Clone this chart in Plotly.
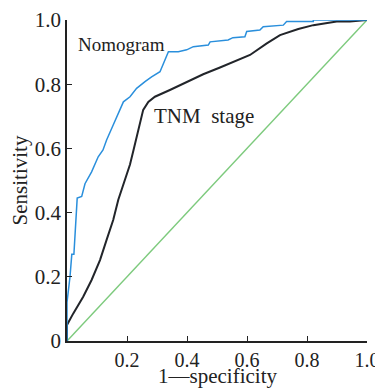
import plotly.graph_objects as go

# Nomogram ROC (1-specificity, sensitivity)
nomo_fpr = [0.0, 0.0, 0.01, 0.016, 0.023, 0.027, 0.03, 0.034, 0.049, 0.06, 0.082, 0.099, 0.104,
            0.12, 0.132, 0.154, 0.177, 0.188, 0.21, 0.232, 0.26, 0.282, 0.31, 0.321, 0.338,
            0.371, 0.399, 0.421, 0.471, 0.477, 0.499, 0.537, 0.553, 0.593, 0.599, 0.643,
            0.654, 0.721, 0.732, 0.821, 0.821, 1.0]
nomo_tpr = [0.0, 0.12, 0.20, 0.27, 0.27, 0.346, 0.41, 0.445, 0.45, 0.49, 0.527, 0.564, 0.574,
            0.595, 0.626, 0.673, 0.72, 0.745, 0.761, 0.787, 0.808, 0.823, 0.839, 0.865, 0.901,
            0.901, 0.907, 0.917, 0.922, 0.932, 0.934, 0.938, 0.945, 0.948, 0.964, 0.969,
            0.979, 0.984, 0.995, 0.995, 1.0, 1.0]

# TNM stage ROC
tnm_fpr = [0.0, 0.0, 0.021, 0.054, 0.082, 0.11, 0.132, 0.154, 0.171, 0.193, 0.21, 0.223,
           0.238, 0.254, 0.271, 0.293, 0.343, 0.399, 0.454, 0.51, 0.566, 0.61, 0.666,
           0.71, 0.771, 0.821, 0.899, 0.943, 1.0]
tnm_tpr = [0.0, 0.05, 0.086, 0.138, 0.19, 0.252, 0.315, 0.377, 0.44, 0.502, 0.55, 0.60,
           0.657, 0.72, 0.745, 0.761, 0.782, 0.806, 0.831, 0.852, 0.875, 0.891, 0.927,
           0.953, 0.972, 0.984, 0.995, 0.995, 1.0]

ref_x = [0, 1]
ref_y = [0, 1]

x_ticks = [0.2, 0.4, 0.6, 0.8, 1.0]
x_ticktext = ["0.2", "0.4", "0.6", "0.8", "1.0"]
y_ticks = [0, 0.2, 0.4, 0.6, 0.8, 1.0]
y_ticktext = ["0", "0.2", "0.4", "0.6", "0.8", "1.0"]

FONT = "Liberation Serif, Times New Roman, serif"

fig = go.Figure()
fig.add_trace(go.Scatter(x=ref_x, y=ref_y, mode="lines",
                         line=dict(color="#7dca7d", width=1.5), showlegend=False))
fig.add_trace(go.Scatter(x=tnm_fpr, y=tnm_tpr, mode="lines",
                         line=dict(color="#22252a", width=2), showlegend=False))
fig.add_trace(go.Scatter(x=nomo_fpr, y=nomo_tpr, mode="lines",
                         line=dict(color="#2a8fdc", width=1.5), showlegend=False))

fig.add_annotation(x=0.18, y=0.925, text="Nomogram", showarrow=False,
                   font=dict(family=FONT, size=19, color="#222"))
fig.add_annotation(x=0.457, y=0.702, text="TNM  stage", showarrow=False,
                   font=dict(family=FONT, size=21, color="#222"))
# x-axis title, placed just under the tick labels
fig.add_annotation(x=0.5, y=-0.108, xref="paper", yref="paper", text="1—specificity",
                   showarrow=False, yanchor="middle",
                   font=dict(family=FONT, size=21, color="#222"))

# the page body adds an 8px offset, so the figure is sized to the remaining area
fig.update_layout(
    width=375, height=380,
    margin=dict(l=59, r=16, t=12, b=47),
    paper_bgcolor="white", plot_bgcolor="white",
    font=dict(family=FONT, size=21, color="#222"),
    xaxis=dict(range=[0, 1.0], tickvals=x_ticks, ticktext=x_ticktext,
               showgrid=False, zeroline=False, showline=True, linecolor="#222",
               linewidth=1.5, ticks="inside", ticklen=5, tickcolor="#222",
               tickfont=dict(size=20), automargin=False),
    yaxis=dict(range=[0, 1.0], tickvals=y_ticks, ticktext=y_ticktext,
               showgrid=False, zeroline=False, showline=True, linecolor="#222",
               linewidth=1.5, ticks="inside", ticklen=5, tickcolor="#222",
               automargin=False,
               title=dict(text="Sensitivity", font=dict(size=21), standoff=6)),
)

fig.write_html("out.html")
